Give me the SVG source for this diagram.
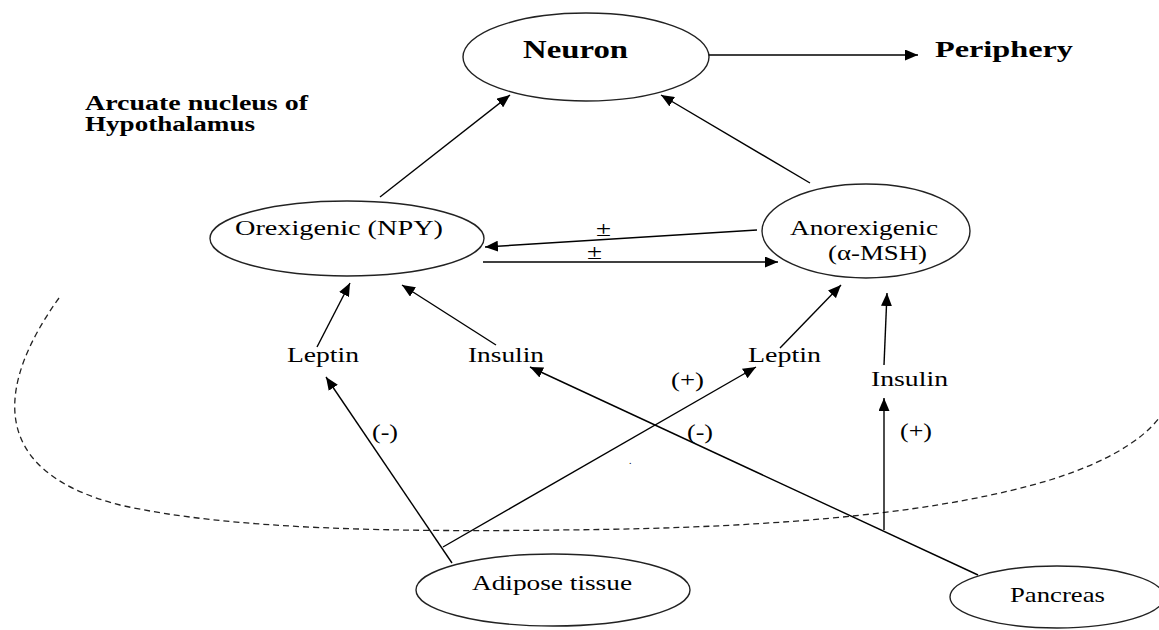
<svg xmlns="http://www.w3.org/2000/svg" width="1159" height="630" viewBox="0 0 1159 630">
<style>
.node ellipse{fill:#fff;stroke:#222;stroke-width:1.4}
text{font-family:"Liberation Serif","Times New Roman",serif;fill:#000}
.b{font-weight:bold}
.r{font-size:21px}
.conn line{stroke:#000;stroke-width:1.4}
.dash{fill:none;stroke:#222;stroke-width:1.3;stroke-dasharray:6 4}
</style>
<defs>
<marker id="ah" markerUnits="userSpaceOnUse" markerWidth="13" markerHeight="11" refX="13" refY="5.5" orient="auto">
<path d="M0,0 L13,5.5 L0,11 z" fill="#000"/>
</marker>
</defs>
<rect width="1159" height="630" fill="#fff"/>
<path class="dash" d="M59,298 C0,380 -18,470 120,505 C230,530 400,532 560,530 C800,528 950,510 1050,480 C1120,458 1152,432 1166,408"/>
<g id="neuron" class="node"><ellipse cx="586" cy="57" rx="123" ry="44"/><text class="b" x="523" y="58" font-size="25" textLength="105" lengthAdjust="spacingAndGlyphs">Neuron</text></g>
<g id="periphery"><text class="b" x="935" y="57" font-size="24" textLength="138" lengthAdjust="spacingAndGlyphs">Periphery</text></g>
<g id="arcuate"><text class="b" x="85" y="110" font-size="20" textLength="223" lengthAdjust="spacingAndGlyphs">Arcuate nucleus of</text><text class="b" x="85" y="131" font-size="20" textLength="170" lengthAdjust="spacingAndGlyphs">Hypothalamus</text></g>
<g id="orexigenic" class="node"><ellipse cx="347" cy="238.5" rx="137" ry="37.5"/><text class="r" x="235" y="235" textLength="208" lengthAdjust="spacingAndGlyphs">Orexigenic (NPY)</text></g>
<g id="anorexigenic" class="node"><ellipse cx="866" cy="231" rx="104" ry="47"/><text class="r" x="790" y="235" textLength="148" lengthAdjust="spacingAndGlyphs">Anorexigenic</text><text class="r" x="828" y="260" textLength="99" lengthAdjust="spacingAndGlyphs">(α-MSH)</text></g>
<g id="adipose" class="node"><ellipse cx="553" cy="590" rx="137" ry="36"/><text class="r" x="472" y="590" textLength="160" lengthAdjust="spacingAndGlyphs">Adipose tissue</text></g>
<g id="pancreas" class="node"><ellipse cx="1057" cy="597" rx="107" ry="31"/><text class="r" x="1010" y="602" textLength="95" lengthAdjust="spacingAndGlyphs">Pancreas</text></g>
<g id="leptin-left"><text class="r" x="287" y="362" textLength="72" lengthAdjust="spacingAndGlyphs">Leptin</text></g>
<g id="insulin-left"><text class="r" x="468" y="362" textLength="76" lengthAdjust="spacingAndGlyphs">Insulin</text></g>
<g id="leptin-right"><text class="r" x="748" y="362" textLength="73" lengthAdjust="spacingAndGlyphs">Leptin</text></g>
<g id="insulin-right"><text class="r" x="871" y="386" textLength="77" lengthAdjust="spacingAndGlyphs">Insulin</text></g>
<g id="connectors" class="conn">
<line x1="709" y1="55" x2="918" y2="55" marker-end="url(#ah)"/>
<line x1="380" y1="197" x2="510" y2="95" marker-end="url(#ah)"/>
<line x1="810" y1="183" x2="661" y2="95" marker-end="url(#ah)"/>
<line x1="757" y1="230" x2="485" y2="247" marker-end="url(#ah)"/>
<line x1="483" y1="262" x2="778" y2="262" marker-end="url(#ah)"/>
<line x1="317" y1="347" x2="350" y2="283" marker-end="url(#ah)"/>
<line x1="496" y1="345" x2="402" y2="285" marker-end="url(#ah)"/>
<line x1="452" y1="563" x2="326" y2="377" marker-end="url(#ah)"/>
<line x1="443" y1="547" x2="756" y2="367" marker-end="url(#ah)"/>
<line x1="780" y1="348" x2="841" y2="285" marker-end="url(#ah)"/>
<line x1="884" y1="365" x2="887" y2="293" marker-end="url(#ah)"/>
<line x1="884" y1="530" x2="884" y2="398" marker-end="url(#ah)"/>
<line x1="978" y1="575" x2="530" y2="367" marker-end="url(#ah)"/>
<text x="596" y="236" font-size="22" textLength="15" lengthAdjust="spacingAndGlyphs">±</text>
<text x="587" y="259" font-size="22" textLength="15" lengthAdjust="spacingAndGlyphs">±</text>
<text class="r" x="372" y="439" textLength="26" lengthAdjust="spacingAndGlyphs">(-)</text>
<text class="r" x="671" y="387" textLength="33" lengthAdjust="spacingAndGlyphs">(+)</text>
<text class="r" x="687" y="439" textLength="26" lengthAdjust="spacingAndGlyphs">(-)</text>
<text class="r" x="900" y="438" textLength="32" lengthAdjust="spacingAndGlyphs">(+)</text>
<text x="629" y="464" font-size="10">.</text>
</g>
</svg>
